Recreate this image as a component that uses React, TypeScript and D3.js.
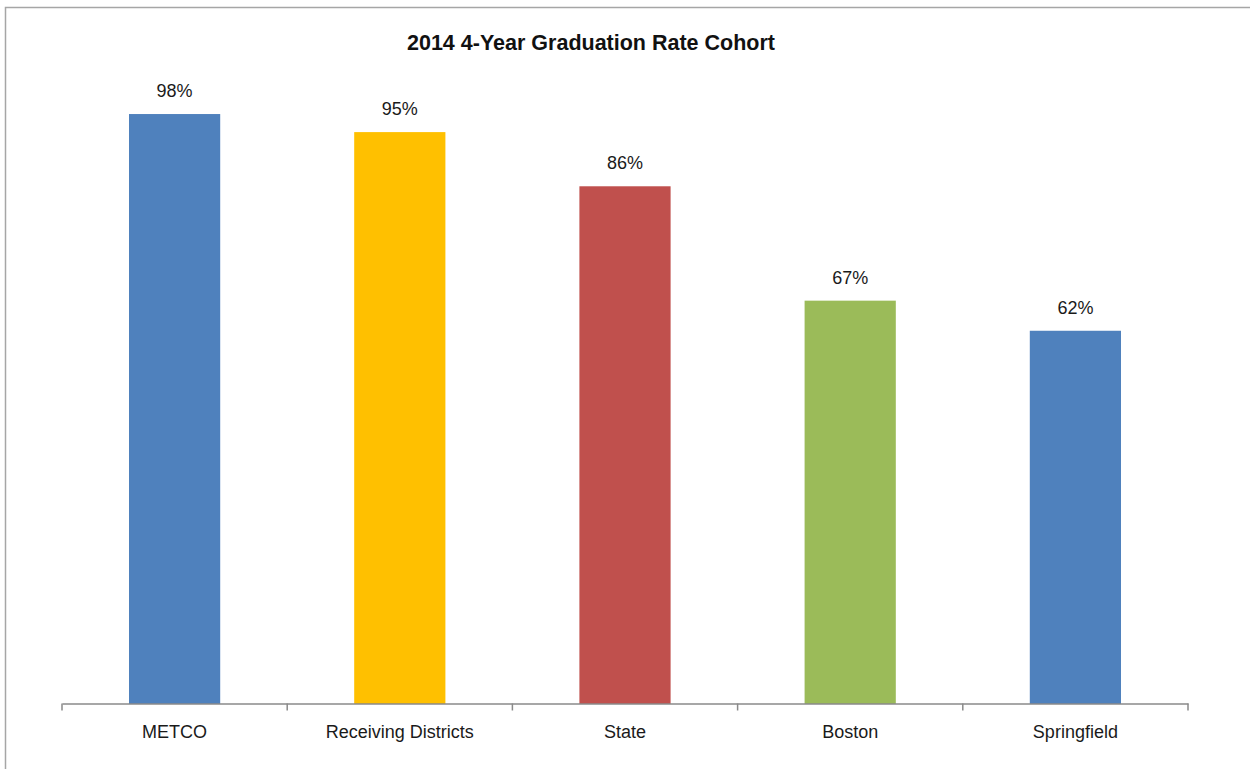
import * as d3 from "d3";
import { useEffect, useRef } from "react";

const categories = ["METCO", "Receiving Districts", "State", "Boston", "Springfield"];
const rates = [0.98, 0.95, 0.86, 0.67, 0.62];
const barColors = ["#4F81BD", "#FFC000", "#C0504D", "#9BBB59", "#4F81BD"];
const title = "2014 4-Year Graduation Rate Cohort";

export default function App() {
  const svgRef = useRef<SVGSVGElement | null>(null);

  useEffect(() => {
    if (!svgRef.current) return;

    const svg = d3.select(svgRef.current);
    const width = 1250;
    const height = 769;
    const margin = { top: 102, right: 62, bottom: 65, left: 62 };
    const baseline = height - margin.bottom - 0.5;

    svg.selectAll("*").remove();
    svg.attr("viewBox", `0 0 ${width} ${height}`);

    svg
      .append("rect")
      .attr("width", width)
      .attr("height", height)
      .attr("fill", "#ffffff");

    // chart frame (only top and left edges are inside the picture)
    svg
      .append("rect")
      .attr("x", 5.5)
      .attr("y", 7.5)
      .attr("width", width + 20)
      .attr("height", height + 20)
      .attr("fill", "none")
      .attr("stroke", "#a6a6a6")
      .attr("stroke-width", 1.5);

    const x = d3
      .scaleBand<string>()
      .domain(categories)
      .range([margin.left, 1188])
      .padding(0);

    const y = d3.scaleLinear().domain([0, 1]).range([704, margin.top]);

    const barWidth = x.bandwidth() * 0.405;

    svg
      .append("g")
      .selectAll("rect")
      .data(categories)
      .join("rect")
      .attr("x", (d) => x(d)! + x.bandwidth() / 2 - barWidth / 2)
      .attr("y", (_, i) => y(rates[i]))
      .attr("width", barWidth)
      .attr("height", (_, i) => y(0) - y(rates[i]))
      .attr("fill", (_, i) => barColors[i]);

    svg
      .append("g")
      .selectAll("text")
      .data(categories)
      .join("text")
      .attr("x", (d) => x(d)! + x.bandwidth() / 2)
      .attr("y", (_, i) => y(rates[i]) - 17)
      .attr("text-anchor", "middle")
      .attr("font-family", "'Liberation Sans', Arial, sans-serif")
      .attr("font-size", 18)
      .attr("fill", "#1a1a1a")
      .text((_, i) => d3.format(".0%")(rates[i]));

    const xAxis = d3.axisBottom(x).tickSize(0).tickPadding(22);
    const xAxisGroup = svg
      .append("g")
      .attr("transform", `translate(0,${baseline})`)
      .call(xAxis as any);

    xAxisGroup.selectAll("path").attr("stroke", "#8a8a8a").attr("stroke-width", 1.5);
    xAxisGroup
      .selectAll("text")
      .attr("fill", "#1a1a1a")
      .attr("font-size", 18)
      .attr("font-family", "'Liberation Sans', Arial, sans-serif");

    // category boundary ticks
    const bounds = [...categories.map((d) => x(d)!), x.range()[1]];
    xAxisGroup
      .append("g")
      .selectAll("line")
      .data(bounds)
      .join("line")
      .attr("x1", (d) => d)
      .attr("x2", (d) => d)
      .attr("y1", 0)
      .attr("y2", 7)
      .attr("stroke", "#8a8a8a")
      .attr("stroke-width", 1.5);

    svg
      .append("text")
      .attr("x", 591)
      .attr("y", 50)
      .attr("text-anchor", "middle")
      .attr("font-family", "'Liberation Sans', Arial, sans-serif")
      .attr("font-weight", "bold")
      .attr("font-size", 21.5)
      .attr("fill", "#111111")
      .text(title);
  }, []);

  return (
    <div style={{ position: "absolute", left: 0, top: 0, width: 1250, height: 769 }}>
      <svg ref={svgRef} width={1250} height={769} style={{ display: "block" }} aria-label="Graduation rate chart" />
    </div>
  );
}
